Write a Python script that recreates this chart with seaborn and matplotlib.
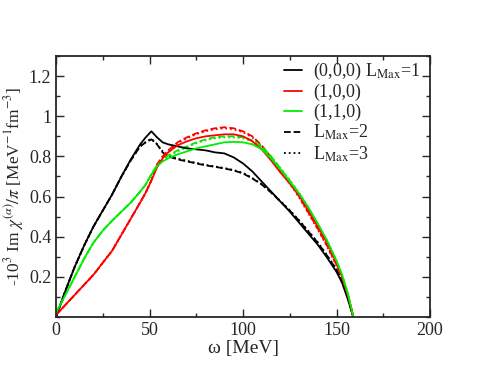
import matplotlib
matplotlib.use("Agg")
import matplotlib.pyplot as plt
import seaborn as sns
import pandas as pd
import numpy as np
from matplotlib.ticker import MultipleLocator, FixedLocator, FuncFormatter
from matplotlib.lines import Line2D

sns.set_style("ticks")
plt.rcParams['font.family'] = ['Liberation Serif', 'DejaVu Serif']
plt.rcParams['mathtext.fontset'] = 'stix'

omega = [0, 5, 10, 15, 20, 25, 30, 35, 40, 45, 48, 51, 54, 57, 60, 65, 70, 75, 80, 85,
         90, 95, 100, 105, 110, 115, 120, 125, 130, 135, 140, 145, 150, 153, 156, 158, 159]

black_L1 = [0.0, 0.13, 0.25, 0.355, 0.45, 0.53, 0.61, 0.70, 0.785, 0.86, 0.895, 0.925, 0.895, 0.87,
            0.86, 0.85, 0.84, 0.835, 0.83, 0.82, 0.815, 0.795, 0.765, 0.725, 0.675, 0.625, 0.575,
            0.525, 0.47, 0.415, 0.36, 0.295, 0.225, 0.17, 0.09, 0.03, 0.0]
red_L1 = [0.01, 0.06, 0.11, 0.16, 0.21, 0.27, 0.33, 0.41, 0.49, 0.57, 0.62, 0.68, 0.745, 0.79,
          0.82, 0.855, 0.875, 0.89, 0.90, 0.905, 0.91, 0.91, 0.90, 0.875, 0.835, 0.78, 0.72,
          0.665, 0.605, 0.53, 0.45, 0.37, 0.27, 0.20, 0.11, 0.04, 0.0]
green_L1 = [0.02, 0.11, 0.20, 0.29, 0.37, 0.43, 0.48, 0.525, 0.57, 0.625, 0.66, 0.71, 0.75, 0.775,
            0.79, 0.81, 0.825, 0.84, 0.85, 0.86, 0.87, 0.872, 0.87, 0.86, 0.835, 0.79, 0.735,
            0.675, 0.615, 0.545, 0.465, 0.38, 0.28, 0.21, 0.12, 0.04, 0.0]

black_L2 = [0.0, 0.13, 0.25, 0.355, 0.45, 0.53, 0.61, 0.70, 0.78, 0.85, 0.87, 0.885, 0.86, 0.82,
            0.80, 0.785, 0.775, 0.765, 0.755, 0.748, 0.74, 0.73, 0.715, 0.69, 0.66, 0.62, 0.575,
            0.53, 0.48, 0.425, 0.37, 0.305, 0.235, 0.18, 0.10, 0.03, 0.0]
red_L2 = [0.01, 0.06, 0.11, 0.16, 0.21, 0.27, 0.33, 0.41, 0.49, 0.57, 0.62, 0.68, 0.76, 0.80,
          0.83, 0.87, 0.895, 0.915, 0.93, 0.94, 0.945, 0.94, 0.925, 0.90, 0.855, 0.795, 0.73,
          0.67, 0.60, 0.52, 0.44, 0.355, 0.26, 0.195, 0.11, 0.04, 0.0]
green_L2 = [0.02, 0.11, 0.20, 0.29, 0.37, 0.43, 0.48, 0.525, 0.57, 0.625, 0.66, 0.71, 0.755, 0.785,
            0.805, 0.83, 0.85, 0.87, 0.885, 0.895, 0.90, 0.90, 0.895, 0.88, 0.85, 0.80, 0.74,
            0.68, 0.615, 0.54, 0.46, 0.375, 0.275, 0.205, 0.115, 0.04, 0.0]

black_L3 = [0.0, 0.13, 0.25, 0.355, 0.45, 0.53, 0.61, 0.70, 0.78, 0.85, 0.872, 0.888, 0.862, 0.825,
            0.805, 0.79, 0.778, 0.768, 0.758, 0.75, 0.742, 0.732, 0.718, 0.692, 0.662, 0.622, 0.578,
            0.532, 0.482, 0.428, 0.372, 0.307, 0.236, 0.181, 0.10, 0.03, 0.0]
red_L3 = [0.01, 0.06, 0.11, 0.16, 0.21, 0.27, 0.33, 0.41, 0.49, 0.57, 0.62, 0.68, 0.758, 0.798,
          0.828, 0.866, 0.89, 0.91, 0.925, 0.935, 0.94, 0.935, 0.92, 0.895, 0.85, 0.79, 0.725,
          0.665, 0.595, 0.515, 0.435, 0.35, 0.255, 0.19, 0.105, 0.035, 0.0]
green_L3 = [0.02, 0.11, 0.20, 0.29, 0.37, 0.43, 0.48, 0.525, 0.57, 0.625, 0.66, 0.71, 0.753, 0.782,
            0.8, 0.825, 0.845, 0.865, 0.88, 0.89, 0.895, 0.895, 0.89, 0.875, 0.848, 0.80, 0.742,
            0.682, 0.618, 0.545, 0.465, 0.38, 0.28, 0.208, 0.118, 0.04, 0.0]

legend_labels = ["(0,0,0) L$_{\\rm Max}$=1", "(1,0,0)", "(1,1,0)",
                 "L$_{\\rm Max}$=2", "L$_{\\rm Max}$=3"]

GREEN = '#00ee00'

fig = plt.figure(figsize=(4.84, 3.74), dpi=100)
ax = fig.add_axes([56/484, 57/374, 374/484, 261/374])

series = [
    (black_L3, 'black', ':'), (red_L3, 'red', ':'), (green_L3, GREEN, ':'),
    (black_L2, 'black', '--'), (red_L2, 'red', '--'), (green_L2, GREEN, '--'),
    (black_L1, 'black', '-'), (red_L1, 'red', '-'), (green_L1, GREEN, '-'),
]
for vals, col, ls in series:
    df = pd.DataFrame({'omega': omega, 'chi': vals})
    sns.lineplot(data=df, x='omega', y='chi', color=col, linestyle=ls, lw=1.3, ax=ax)

handles = [Line2D([], [], color='black', ls='-', lw=1.3),
           Line2D([], [], color='red', ls='-', lw=1.3),
           Line2D([], [], color=GREEN, ls='-', lw=1.3),
           Line2D([], [], color='black', ls='--', lw=1.3),
           Line2D([], [], color='black', ls=':', lw=1.3)]
ax.legend(handles, legend_labels, loc='upper right', bbox_to_anchor=(1.01, 1.03),
          frameon=False, fontsize=13, handlelength=1.0, handletextpad=0.6,
          labelspacing=0.12, borderaxespad=0.3)

ax.set_xlim(0, 200)
ax.set_ylim(0, 1.3)
ax.xaxis.set_major_locator(MultipleLocator(50))
ax.xaxis.set_minor_locator(MultipleLocator(25))
ax.yaxis.set_major_locator(FixedLocator([0.2, 0.4, 0.6, 0.8, 1.0, 1.2]))
ax.yaxis.set_minor_locator(MultipleLocator(0.1))
ax.yaxis.set_major_formatter(FuncFormatter(lambda v, p: f"{v:g}"))
ax.tick_params(which='both', direction='in', top=True, right=True, labelsize=13, width=1)
ax.tick_params(which='major', length=6)
ax.tick_params(which='minor', length=3)
for s in ax.spines.values():
    s.set_linewidth(1.3)
    s.set_visible(True)

ax.set_xlabel("ω [MeV]", fontsize=14, labelpad=1)
ax.set_ylabel("-10$^3$ Im $\\chi^{(\\alpha)}/\\pi$ [MeV$^{-1}$fm$^{-3}$]", fontsize=12.5, labelpad=2)

fig.savefig("out.png", dpi=100)
